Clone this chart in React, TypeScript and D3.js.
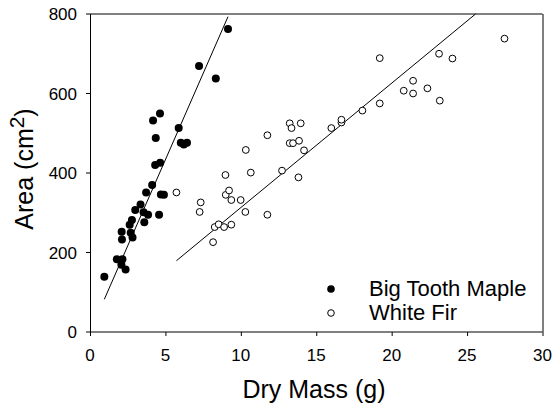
import React, { useEffect, useRef } from 'react';
import * as d3 from 'd3';

// Big Tooth Maple (filled)
const mapleMass = [0.95, 1.78, 2.15, 2.08, 2.36, 2.1, 2.12, 2.63, 2.78, 2.82, 2.7, 3.0, 3.35, 3.55, 3.85, 3.6, 4.58, 3.72, 4.12, 4.7, 4.9, 4.32, 4.65, 4.36, 4.18, 4.64, 5.88, 6.02, 6.22, 6.43, 7.23, 8.34, 9.15];
const mapleArea = [139, 183, 183, 169, 157, 252, 233, 270, 282, 238, 250, 307, 321, 301, 295, 276, 295, 351, 370, 346, 345, 420, 426, 488, 532, 550, 513, 476, 472, 476, 669, 638, 762];

// White Fir (open)
const firMass = [5.73, 7.34, 7.27, 8.16, 8.27, 8.53, 8.89, 9.37, 9.0, 9.22, 9.37, 9.99, 10.3, 11.76, 8.98, 10.66, 10.33, 11.76, 12.73, 13.82, 13.24, 13.36, 13.97, 13.24, 13.46, 13.86, 14.19, 16.0, 16.67, 16.67, 18.06, 19.21, 19.21, 20.8, 21.42, 21.42, 22.37, 23.19, 23.14, 24.03, 27.48];
const firArea = [351, 326, 302, 226, 264, 271, 264, 270, 345, 356, 332, 332, 302, 295, 395, 401, 458, 495, 406, 389, 525, 513, 525, 475, 475, 481, 457, 513, 527, 534, 557, 575, 689, 607, 600, 632, 613, 582, 700, 688, 738];

// fitted regression lines: [slope, intercept]
const mapleFit = [86.7, 0];
const firFit = [31.3, 0];

const xTicks = [0, 5, 10, 15, 20, 25, 30];
const yTicks = [0, 200, 400, 600, 800];
const seriesNames = ['Big Tooth Maple', 'White Fir'];

const FONT = 'Arial, "Liberation Sans", Helvetica, sans-serif';

const App = () => {
    const ref = useRef<SVGSVGElement | null>(null);

    useEffect(() => {
        if (!ref.current) return;
        const svg = d3.select(ref.current);
        svg.selectAll('*').remove();

        const left = 90, right = 542.5, top = 14, bottom = 332;
        const x = d3.scaleLinear().domain([0, 30]).range([left, right]);
        const y = d3.scaleLinear().domain([0, 800]).range([bottom, top]);

        // frame: top/bottom soft, left/right crisp
        svg.append('line').attr('x1', left).attr('x2', right).attr('y1', top).attr('y2', top)
            .attr('stroke', '#000').attr('stroke-width', 1);
        svg.append('line').attr('x1', left).attr('x2', right).attr('y1', bottom).attr('y2', bottom)
            .attr('stroke', '#000').attr('stroke-width', 1);
        svg.append('line').attr('x1', left + 0.5).attr('x2', left + 0.5).attr('y1', top).attr('y2', bottom)
            .attr('stroke', '#000').attr('stroke-width', 1);
        svg.append('line').attr('x1', right + 0.5).attr('x2', right + 0.5).attr('y1', top).attr('y2', bottom)
            .attr('stroke', '#000').attr('stroke-width', 1);

        // ticks + labels
        xTicks.forEach(t => {
            svg.append('line').attr('x1', x(t) + 0.5).attr('x2', x(t) + 0.5).attr('y1', bottom).attr('y2', bottom + 4)
                .attr('stroke', '#000');
            svg.append('text').attr('x', x(t)).attr('y', 361).attr('text-anchor', 'middle')
                .style('font-family', FONT).style('font-size', '17px').text(t);
        });
        yTicks.forEach(t => {
            svg.append('line').attr('x1', left - 4).attr('x2', left).attr('y1', y(t)).attr('y2', y(t))
                .attr('stroke', '#000');
            svg.append('text').attr('x', 77).attr('y', y(t)).attr('dy', '0.36em').attr('text-anchor', 'end')
                .style('font-family', FONT).style('font-size', '17px').text(t);
        });

        // axis titles
        svg.append('text').attr('x', 314).attr('y', 398).attr('text-anchor', 'middle')
            .style('font-family', FONT).style('font-size', '25px').text('Dry Mass (g)');
        const yt = svg.append('text').attr('transform', 'translate(33,169) rotate(-90)')
            .attr('text-anchor', 'middle').style('font-family', FONT).style('font-size', '25px');
        yt.append('tspan').text('Area (cm');
        yt.append('tspan').attr('dy', -9).style('font-size', '21px').text('2');
        yt.append('tspan').attr('dy', 9).text(')');

        // regression lines
        const line = d3.line<number[]>().x(d => x(d[0])).y(d => y(d[1]));
        const mExt = d3.extent(mapleMass) as [number, number];
        const mEnd = Math.min(mExt[1], (800 - mapleFit[1]) / mapleFit[0]);
        svg.append('path')
            .attr('d', line([[mExt[0], mapleFit[0] * mExt[0] + mapleFit[1]], [mEnd, mapleFit[0] * mEnd + mapleFit[1]]]))
            .attr('stroke', '#000').attr('fill', 'none').attr('stroke-width', 1);
        const fExt = d3.extent(firMass) as [number, number];
        const fEnd = Math.min(fExt[1], (800 - firFit[1]) / firFit[0]);
        svg.append('path')
            .attr('d', line([[fExt[0], firFit[0] * fExt[0] + firFit[1]], [fEnd, firFit[0] * fEnd + firFit[1]]]))
            .attr('stroke', '#000').attr('fill', 'none').attr('stroke-width', 1);

        // points
        svg.append('g').selectAll('circle')
            .data(firMass.map((m, i) => [m, firArea[i]]))
            .enter().append('circle')
            .attr('cx', d => x(d[0])).attr('cy', d => y(d[1])).attr('r', 3.4)
            .attr('fill', '#fff').attr('stroke', '#000').attr('stroke-width', 1);
        svg.append('g').selectAll('circle')
            .data(mapleMass.map((m, i) => [m, mapleArea[i]]))
            .enter().append('circle')
            .attr('cx', d => x(d[0])).attr('cy', d => y(d[1])).attr('r', 4)
            .attr('fill', '#000');

        // legend
        seriesNames.forEach((name, i) => {
            const ly = 296 + i * 24;
            svg.append('circle').attr('cx', 331).attr('cy', ly - 7).attr('r', i === 0 ? 3.8 : 3.3)
                .attr('fill', i === 0 ? '#000' : '#fff').attr('stroke', '#000').attr('stroke-width', i === 0 ? 0 : 1);
            svg.append('text').attr('x', 369).attr('y', ly)
                .style('font-family', FONT).style('font-size', '22px').text(name);
        });
    }, []);

    return (
        <svg ref={ref} width={552} height={408}
            style={{ position: 'absolute', left: 0, top: 0, background: '#fff' }} />
    );
};

export default App;
